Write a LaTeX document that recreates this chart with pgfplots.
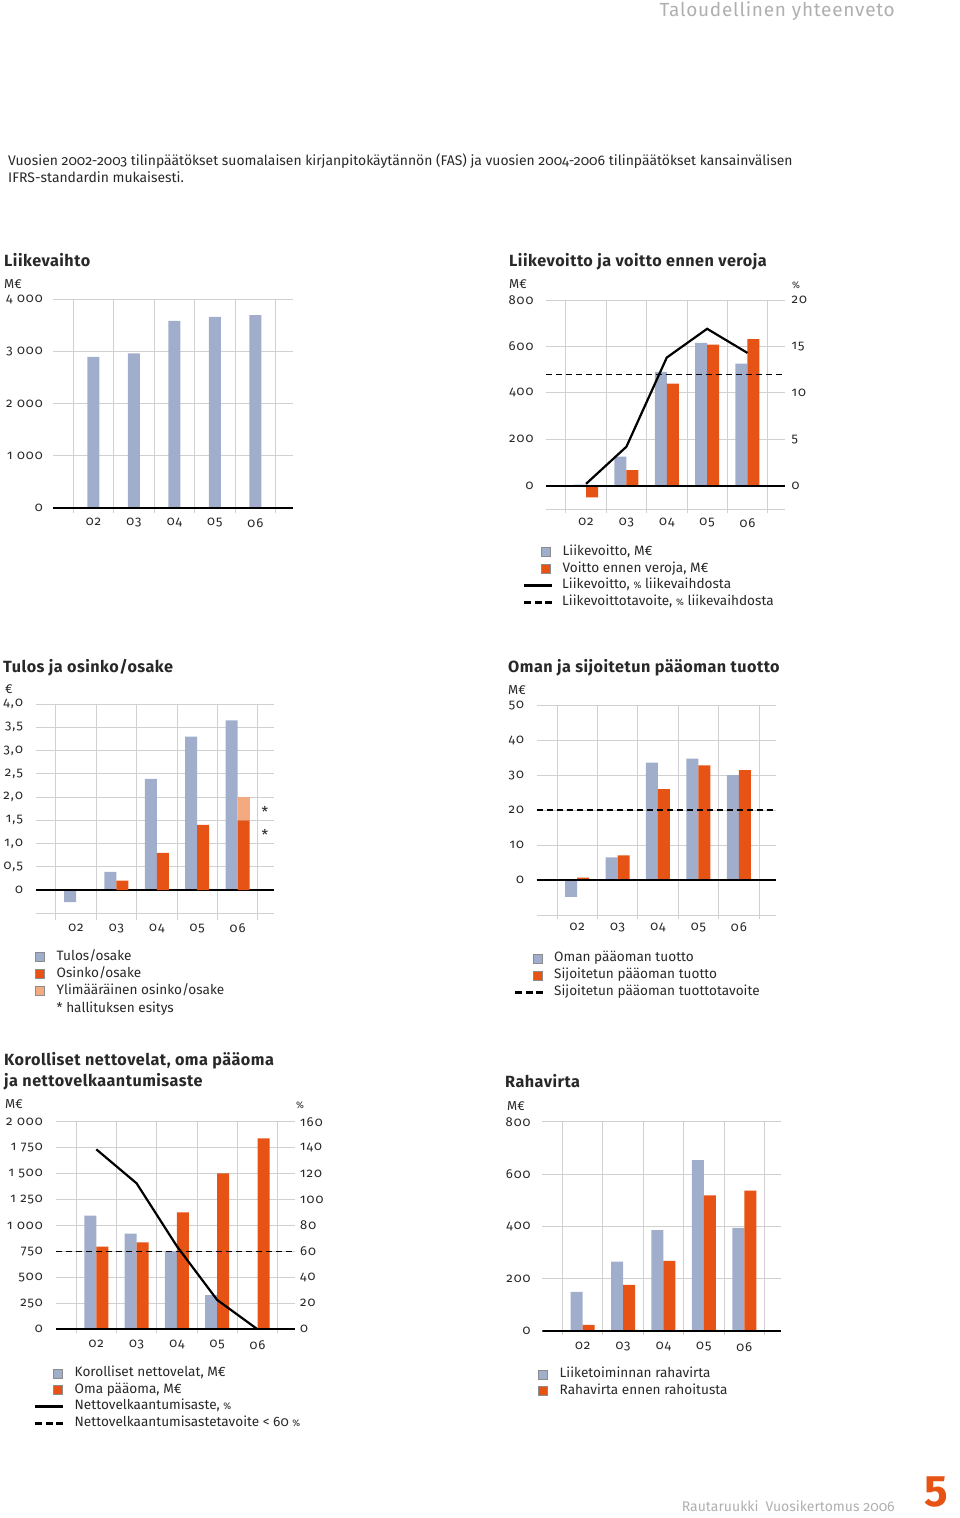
\documentclass[border=0pt]{standalone}
\usepackage{fontspec}
\setmainfont{Fira Sans}[Numbers=OldStyle]
\usepackage{pgfplots}
\pgfplotsset{compat=1.18}
\definecolor{barblue}{RGB}{160,174,204}
\definecolor{barorange}{RGB}{230,83,20}
\definecolor{barlight}{RGB}{243,170,128}
\definecolor{gridgray}{RGB}{208,208,208}
\definecolor{txtgray}{RGB}{175,175,175}
\definecolor{ink}{RGB}{40,40,40}
\newcommand\tickfont{\fontsize{13}{15}\selectfont\addfontfeatures{LetterSpace=8}\color{ink}}
\newcommand\legfont{\fontsize{13.6}{15}\selectfont\color{ink}}
\newcommand\titlefont{\fontsize{16.2}{19}\selectfont\bfseries\addfontfeatures{LetterSpace=3}\color{ink}}
\newcommand\unitfont{\fontsize{13}{15}\selectfont\color{ink}}
\newcommand\pc{{\fontsize{9.5}{10}\selectfont\%}}
\tikzset{
  pline/.style={black, line width=2.2pt},
  tline/.style={black, line width=1.5pt, dash pattern=on 6pt off 4pt},
  lgpline/.style={black, line width=2.4pt},
  lgtline/.style={black, line width=2.4pt, dash pattern=on 7pt off 3.5pt},
}
\pgfplotsset{
  page/.style={scale only axis, anchor=south west, xmin=0,
    axis line style={draw=none}, major tick length=0pt, minor tick length=0pt,
    xtick={1,2,3,4,5}, xticklabels={02,03,04,05,06},
    minor xtick={0.5,1.5,2.5,3.5,4.5,5.5},
    xminorgrids=true, ymajorgrids=true, xmajorgrids=false,
    grid style={draw=gridgray, line width=0.8pt},
    minor grid style={draw=gridgray, line width=0.8pt},
    ticklabel style={font=\tickfont},
    xticklabel style={anchor=north, inner sep=0pt},
    yticklabel style={anchor=east, inner sep=0pt},
  },
  rightax/.style={scale only axis, anchor=south west, xmin=0,
    axis line style={draw=none}, major tick length=0pt, minor tick length=0pt,
    xtick=\empty, yticklabel pos=right,
    ticklabel style={font=\tickfont},
    yticklabel style={anchor=west, inner sep=0pt},
  },
  bblue/.style={ybar, bar width=12pt, bar shift=-6pt, fill=barblue, draw=none},
  borange/.style={ybar, bar width=12pt, bar shift=6pt, fill=barorange, draw=none},
}
\newcommand\legsq[4]{\draw[draw=black!45, line width=0.6pt, fill=#3] ({#1pt},{-#2pt+4.5pt}) rectangle ++(9pt,-9pt);
  \node[anchor=west, inner sep=0pt, font=\legfont] at ({#1pt+21pt},{-#2pt}) {\strut #4};}
\newcommand\legln[5]{\draw[#3] ({#1pt},{-#2pt}) -- ++(28pt,0pt);
  \node[anchor=west, inner sep=0pt, font=\legfont] at ({#1pt+#4pt},{-#2pt}) {\strut #5};}
\newcommand\lab[4]{\node[anchor=west, inner sep=0pt, font=#3] at ({#1pt},{-#2pt}) {\strut #4};}
\begin{document}
\begin{tikzpicture}
\path[use as bounding box] (0,0) rectangle (960pt,-1518pt);
% header / footer / intro
\node[anchor=east, inner sep=0pt, font=\fontsize{19}{22}\selectfont\addfontfeatures{LetterSpace=4}\color{txtgray}] at (895pt,-12pt) {\strut Taloudellinen yhteenveto};
\node[anchor=north west, inner sep=0pt, align=left, font=\fontsize{13.9}{17}\selectfont\color{ink}] at (8pt,-154pt)
 {Vuosien 2002-2003 tilinpäätökset suomalaisen kirjanpitokäytännön (FAS) ja vuosien 2004-2006 tilinpäätökset kansainvälisen\\IFRS-standardin mukaisesti.};
\node[anchor=east, inner sep=0pt, font=\fontsize{14}{16}\selectfont\color{txtgray}] at (895pt,-1508pt) {\strut Rautaruukki\enspace Vuosikertomus 2006};
\node[anchor=center, inner sep=0pt, font=\fontsize{44}{44}\selectfont\bfseries\addfontfeatures{Numbers=Lining}\color{barorange}] at (936pt,-1492pt) {5};

% ---------- Chart 1: Liikevaihto
\lab{4}{263}{\titlefont}{Liikevaihto}
\lab{4}{285}{\unitfont}{M€}
\begin{axis}[page, at={(53pt,-513.2pt)}, width=240pt, height=214.2pt, xmax=5.93,
  ymin=-100, ymax=4000, ytick={0,1000,2000,3000,4000},
  yticklabels={0,1~000,2~000,3~000,4~000},
  xticklabel style={yshift=-5pt}, yticklabel style={xshift=-10pt}]
\addplot[ybar, bar width=12pt, bar shift=0pt, fill=barblue, draw=none]
  coordinates {(1,2890) (2,2960) (3,3580) (4,3660) (5,3690)};
\draw[black, line width=2pt] (axis cs:0,0) -- (axis cs:5.93,0);
\end{axis}

% ---------- Chart 2: Liikevoitto ja voitto ennen veroja
\lab{509}{263}{\titlefont}{Liikevoitto ja voitto ennen veroja}
\lab{509}{285}{\unitfont}{M€}
\lab{792}{285}{\unitfont}{\pc}
\begin{axis}[page, at={(545.7pt,-513.1pt)}, width=239.3pt, height=213.1pt, xmax=5.93,
  ymin=-118, ymax=800, ytick={-100,0,200,400,600,800},
  yticklabels={,0,200,400,600,800},
  xticklabel style={yshift=-5pt}, yticklabel style={xshift=-12pt}]
\addplot[bblue] coordinates {(1,5) (2,125) (3,490) (4,615) (5,526)};
\addplot[borange] coordinates {(1,-50) (2,67) (3,440) (4,608) (5,631)};
\end{axis}
\begin{axis}[rightax, at={(545.7pt,-513.1pt)}, width=239.3pt, height=213.1pt, xmax=5.93,
  ymin=-2.95, ymax=20, ytick={0,5,10,15,20}, yticklabels={0,5,10,15,20},
  yticklabel style={xshift=6.5pt}]
\addplot[tline] coordinates {(0,12) (5.93,12)};
\addplot[pline] coordinates {(1,0.2) (2,4.2) (3,13.8) (4,16.9) (5,14.3)};
\draw[black, line width=2pt] (axis cs:0,0) -- (axis cs:5.93,0);
\end{axis}
\legsq{541.5}{552}{barblue}{Liikevoitto, M€}
\legsq{541.5}{569}{barorange}{Voitto ennen veroja, M€}
\legln{524}{585.5}{lgpline}{38}{Liikevoitto, \pc\ liikevaihdosta}
\legln{524}{602.5}{lgtline}{38}{Liikevoittotavoite, \pc\ liikevaihdosta}

% ---------- Chart 3: Tulos ja osinko/osake
\lab{3}{669}{\titlefont}{Tulos ja osinko/osake}
\lab{5}{690}{\unitfont}{€}
\begin{axis}[page, at={(35.7pt,-920pt)}, width=238.6pt, height=216pt, xmax=5.91,
  ymin=-0.645, ymax=4, ytick={-0.5,0,0.5,1,1.5,2,2.5,3,3.5,4},
  yticklabels={,0,{0,5},{1,0},{1,5},{2,0},{2,5},{3,0},{3,5},{4,0}},
  xticklabel style={yshift=-3.5pt}, yticklabel style={xshift=-12.5pt}]
\addplot[bblue] coordinates {(1,-0.26) (2,0.39) (3,2.39) (4,3.30) (5,3.65)};
\end{axis}
\begin{axis}[scale only axis, anchor=south west, hide axis, at={(35.7pt,-920pt)}, width=238.6pt, height=216pt,
  xmin=0, xmax=5.91, ymin=-0.645, ymax=4, ybar stacked, bar width=12pt, bar shift=6pt]
\addplot[fill=barorange, draw=none] coordinates {(1,0) (2,0.2) (3,0.8) (4,1.4) (5,1.5)};
\addplot[fill=barlight, draw=none] coordinates {(1,0) (2,0) (3,0) (4,0) (5,0.5)};
\draw[black, line width=2pt] (axis cs:0,0) -- (axis cs:5.91,0);
\end{axis}
\node[font=\fontsize{15}{15}\selectfont\color{ink}] at (265pt,-812pt) {*};
\node[font=\fontsize{15}{15}\selectfont\color{ink}] at (265pt,-835pt) {*};
\legsq{35.5}{957}{barblue}{Tulos/osake}
\legsq{35.5}{974}{barorange}{Osinko/osake}
\legsq{35.5}{991}{barlight}{Ylimääräinen osinko/osake}
\lab{56.5}{1009}{\legfont}{* hallituksen esitys}

% ---------- Chart 4: Oman ja sijoitetun pääoman tuotto
\lab{508}{669}{\titlefont}{Oman ja sijoitetun pääoman tuotto}
\lab{508}{691}{\unitfont}{M€}
\begin{axis}[page, at={(536.7pt,-919pt)}, width=239.3pt, height=213.9pt, xmax=5.92,
  ymin=-11.1, ymax=50, ytick={-10,0,10,20,30,40,50},
  yticklabels={,0,10,20,30,40,50},
  xticklabel style={yshift=-3.5pt}, yticklabel style={xshift=-12.5pt}]
\addplot[bblue] coordinates {(1,-4.8) (2,6.5) (3,33.6) (4,34.7) (5,30.0)};
\addplot[borange] coordinates {(1,0.7) (2,7.1) (3,26.0) (4,32.8) (5,31.4)};
\addplot[tline] coordinates {(0,20) (5.92,20)};
\draw[black, line width=2pt] (axis cs:0,0) -- (axis cs:5.92,0);
\end{axis}
\legsq{533}{958.5}{barblue}{Oman pääoman tuotto}
\legsq{533}{975.5}{barorange}{Sijoitetun pääoman tuotto}
\legln{515}{992.5}{lgtline}{39}{Sijoitetun pääoman tuottotavoite}

% ---------- Chart 5: Korolliset nettovelat
\lab{4}{1062}{\titlefont}{Korolliset nettovelat, oma pääoma}
\lab{4}{1083}{\titlefont}{ja nettovelkaantumisaste}
\lab{5}{1105}{\unitfont}{M€}
\lab{296}{1105}{\unitfont}{\pc}
\begin{axis}[page, at={(56pt,-1333pt)}, width=239pt, height=211.3pt, xmax=5.93,
  ymin=-36, ymax=2000, ytick={0,250,500,750,1000,1250,1500,1750,2000},
  yticklabels={0,250,500,750,1~000,1~250,1~500,1~750,2~000},
  xticklabel style={yshift=-7pt}, yticklabel style={xshift=-13pt}]
\addplot[bblue] coordinates {(1,1094) (2,921) (3,754) (4,330) (5,10)};
\addplot[borange] coordinates {(1,796) (2,838) (3,1127) (4,1503) (5,1840)};
\end{axis}
\begin{axis}[rightax, at={(56pt,-1333pt)}, width=239pt, height=211.3pt, xmax=5.93,
  ymin=-2.88, ymax=160, ytick={0,20,40,60,80,100,120,140,160},
  yticklabels={0,20,40,60,80,100,120,140,160}, yticklabel style={xshift=5pt}]
\addplot[tline] coordinates {(0,60) (5.93,60)};
\addplot[pline] coordinates {(1,138.7) (2,112.5) (3,64) (4,22.6) (5,0)};
\draw[black, line width=2pt] (axis cs:0,0) -- (axis cs:5.93,0);
\end{axis}
\legsq{53.5}{1373.5}{barblue}{Korolliset nettovelat, M€}
\legsq{53.5}{1390}{barorange}{Oma pääoma, M€}
\legln{35}{1406.5}{lgpline}{39.5}{Nettovelkaantumisaste, \pc}
\legln{35}{1423.5}{lgtline}{39.5}{Nettovelkaantumisastetavoite < 60 \pc}

% ---------- Chart 6: Rahavirta
\lab{505}{1084}{\titlefont}{Rahavirta}
\lab{507}{1107}{\unitfont}{M€}
\begin{axis}[page, at={(542.3pt,-1335pt)}, width=238.7pt, height=213.3pt, xmax=5.91,
  ymin=-16.5, ymax=800, ytick={0,200,400,600,800},
  yticklabels={0,200,400,600,800},
  xticklabel style={yshift=-7pt}, yticklabel style={xshift=-11.5pt}]
\addplot[bblue] coordinates {(1,149) (2,264) (3,385) (4,653) (5,394)};
\addplot[borange] coordinates {(1,22) (2,175) (3,267) (4,518) (5,536)};
\draw[black, line width=2pt] (axis cs:0,0) -- (axis cs:5.91,0);
\end{axis}
\legsq{538.5}{1374.5}{barblue}{Liiketoiminnan rahavirta}
\legsq{538.5}{1391}{barorange}{Rahavirta ennen rahoitusta}
\end{tikzpicture}
\end{document}
